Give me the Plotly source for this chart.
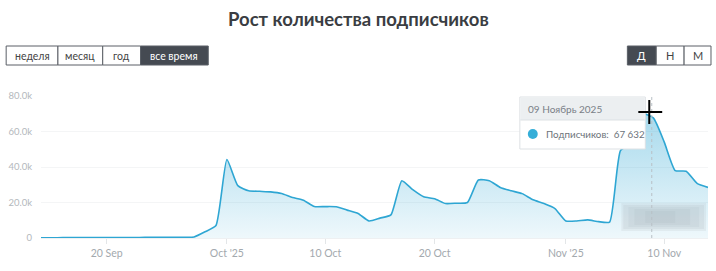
import plotly.graph_objects as go
import pandas as pd

dates = pd.date_range("2025-09-14", "2025-11-14", freq="D")
subscribers = [
    150, 170, 190, 200, 220, 240, 260, 280, 300, 320, 340, 370, 400, 450,  # Sep 14-27
    600, 3500, 7000,                                                        # Sep 28-30
    44200, 29500, 26600, 26300, 26000, 25100, 22800, 21300, 17700, 17700,   # Oct 1-10
    17600, 15700, 13800, 9600, 11200, 13000, 32300, 27200, 23200, 22100,    # Oct 11-20
    19400, 19600, 20000, 32700, 32300, 28500, 26600, 25000, 21500, 19400,   # Oct 21-30
    16600,                                                                  # Oct 31
    9600, 9600, 10200, 9200, 9000, 49300, 53000, 70000, 67632, 54000,       # Nov 1-10
    38000, 37600, 30800, 28500,                                             # Nov 11-14
]
x_tick_vals = ["2025-09-20", "2025-10-01", "2025-10-10", "2025-10-20", "2025-11-01", "2025-11-10"]
x_tick_text = ["20 Sep", "Oct '25", "10 Oct", "20 Oct", "Nov '25", "10 Nov"]
y_tick_vals = [0, 20000, 40000, 60000, 80000]
y_tick_text = ["0", "20.0k", "40.0k", "60.0k", "80.0k"]
range_buttons = ["неделя", "месяц", "год", "все время"]
period_buttons = ["Д", "Н", "М"]
title = "Рост количества подписчиков"
series_name = "Подписчиков"
tooltip_date = "09 Ноябрь 2025"
tooltip_value = "67 632"

W, H = 716, 271
L, R, T, B = 38, 8, 96, 33
PW, PH = W - L - R, H - T - B


def px(x):
    return (x - L) / PW


def py(y):
    return (H - B - y) / PH


LINE = "#2ea6d3"
FONT = "Lato, Open Sans, sans-serif"

fig = go.Figure()
fig.add_trace(go.Scatter(
    x=dates, y=subscribers, mode="lines", name=series_name,
    line=dict(color=LINE, width=1.6, shape="spline", smoothing=0.5),
    fill="tozeroy",
    fillgradient=dict(type="vertical",
                      colorscale=[[0, "rgba(46,166,211,0.08)"], [1, "rgba(46,166,211,0.42)"]]),
    hoverinfo="skip",
))

shapes = []
annotations = []


def text(t, x, y, size, color, xanchor="center", bold=False):
    annotations.append(dict(text=("<b>%s</b>" % t) if bold else t, xref="paper", yref="paper",
                            x=px(x), y=py(y), xanchor=xanchor, yanchor="middle", showarrow=False,
                            font=dict(size=size, color=color, family=FONT)))


text(title, 357, 19, 18.5, "#3a3d42", bold=True)

# range buttons
edges = [3, 55, 100, 138, 206]
for i, lab in enumerate(range_buttons):
    active = i == len(range_buttons) - 1
    shapes.append(dict(type="rect", xref="paper", yref="paper",
                       x0=px(edges[i]), x1=px(edges[i + 1]), y0=py(65), y1=py(46),
                       line=dict(color="#5a5f66", width=1),
                       fillcolor="#454a52" if active else "white", layer="above"))
    text(lab, (edges[i] + edges[i + 1]) / 2, 55.5, 10.5, "white" if active else "#444")

edges2 = [627, 656, 684, 711]
for i, lab in enumerate(period_buttons):
    active = i == 0
    shapes.append(dict(type="rect", xref="paper", yref="paper",
                       x0=px(edges2[i]), x1=px(edges2[i + 1]), y0=py(65), y1=py(46),
                       line=dict(color="#5a5f66", width=1),
                       fillcolor="#454a52" if active else "white", layer="above"))
    text(lab, (edges2[i] + edges2[i + 1]) / 2, 55.5, 11, "white" if active else "#444")

# blurred watermark
for (x0, x1, y0, y1, op) in [(621, 706, 203, 231, 0.14), (623, 704, 205, 229, 0.14),
                              (628, 699, 207, 227, 0.12), (634, 690, 209, 225, 0.12),
                              (645, 675, 211, 223, 0.12)]:
    shapes.append(dict(type="rect", xref="paper", yref="paper", x0=px(x0), x1=px(x1), y0=py(y1), y1=py(y0),
                       line=dict(width=0), fillcolor="rgba(160,170,178,%s)" % op, layer="above"))

# dashed hover line
shapes.append(dict(type="line", xref="paper", yref="paper", x0=px(651.5), x1=px(651.5), y0=py(238), y1=py(97),
                   line=dict(color="#b8c0c6", width=1, dash="dot"), layer="above"))

# tooltip
shapes.append(dict(type="rect", xref="paper", yref="paper", x0=px(519), x1=px(645), y0=py(149), y1=py(97),
                   line=dict(color="#dde1e4", width=1), fillcolor="white", layer="above"))
shapes.append(dict(type="rect", xref="paper", yref="paper", x0=px(519.5), x1=px(644.5), y0=py(120), y1=py(97.5),
                   line=dict(width=0), fillcolor="#eceff1", layer="above"))
shapes.append(dict(type="line", xref="paper", yref="paper", x0=px(519.5), x1=px(644.5), y0=py(120), y1=py(120),
                   line=dict(color="#dde1e4", width=1), layer="above"))
shapes.append(dict(type="circle", xref="paper", yref="paper", x0=px(527), x1=px(537), y0=py(139), y1=py(129),
                   line=dict(width=0), fillcolor="#35aed8", layer="above"))
text(tooltip_date, 525, 108.5, 10, "#7a8087", xanchor="left")
text(series_name + ":  " + tooltip_value, 543, 134, 9.8, "#6c737a", xanchor="left")

# cursor cross
shapes.append(dict(type="line", xref="paper", yref="paper", x0=px(638), x1=px(662), y0=py(112), y1=py(112),
                   line=dict(color="black", width=2), layer="above"))
shapes.append(dict(type="line", xref="paper", yref="paper", x0=px(649), x1=px(649), y0=py(100), y1=py(124),
                   line=dict(color="black", width=2), layer="above"))

fig.update_layout(
    width=W, height=H, margin=dict(l=L, r=R, t=T, b=B),
    paper_bgcolor="white", plot_bgcolor="white", showlegend=False,
    font=dict(family=FONT),
    shapes=shapes, annotations=annotations,
    xaxis=dict(range=[dates[0], dates[-1]], tickvals=x_tick_vals, ticktext=x_tick_text,
               showgrid=False, ticks="outside", ticklen=5, tickcolor="#e3e6e8",
               showline=True, linecolor="#eef0f2", zeroline=False,
               tickfont=dict(size=10.5, color="#a3a9ae", family=FONT)),
    yaxis=dict(range=[0, 80000], tickvals=y_tick_vals, ticktext=y_tick_text,
               showgrid=True, gridcolor="#f4f5f6", zeroline=False, showline=False,
               ticks="", ticklabelstandoff=8,
               tickfont=dict(size=9.5, color="#b3b8bc", family=FONT)),
)
fig.write_html("out.html")
